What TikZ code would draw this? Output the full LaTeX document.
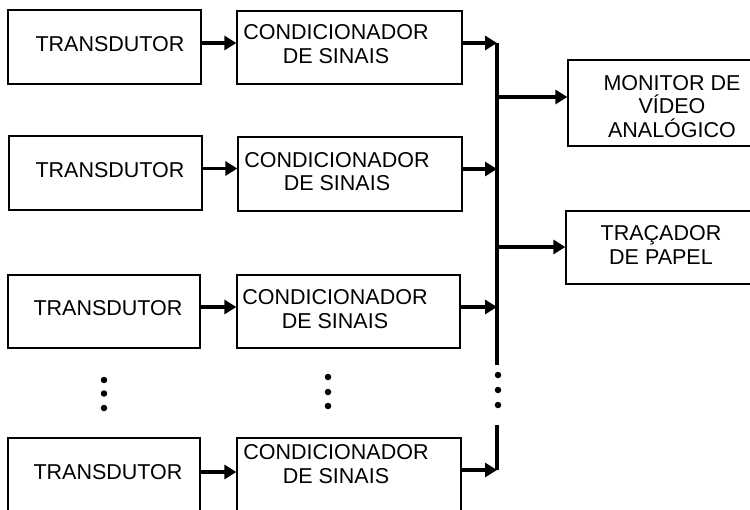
\documentclass[tikz,border=0pt]{standalone}
\usepackage{fontspec}
\setmainfont{Liberation Sans}
\usetikzlibrary{arrows.meta}
\tikzset{
  box/.style={draw, line width=1.3pt, inner sep=0pt},
  lbl/.style={font=\fontsize{21.5}{23.5}\selectfont, align=center, inner sep=0pt},
  arr/.style={line width=3.6pt, -{Triangle[length=12pt,width=14pt]}},
  bus/.style={line width=3.4pt},
  dot/.style={fill=black, draw=none, circle, minimum size=6.5pt, inner sep=0pt},
}
\begin{document}
\begin{tikzpicture}[x=1pt,y=-1pt]
\useasboundingbox (0,0) rectangle (750,509);
\clip (0,0) rectangle (750,509);
% row 1
\node[box, minimum width=193pt, minimum height=74pt] (t1) at (104.5,47) {};
\node[lbl] (t1x) at (110,44) {TRANSDUTOR};
\node[box, minimum width=225pt, minimum height=73pt] (c1) at (349.5,47.5) {};
\node[lbl] (c1x) at (336,44) {CONDICIONADOR\\DE SINAIS};
% row 2
\node[box, minimum width=193pt, minimum height=74pt] (t2) at (105.5,173) {};
\node[lbl] (t2x) at (110,170) {TRANSDUTOR};
\node[box, minimum width=224pt, minimum height=74pt] (c2) at (350,174) {};
\node[lbl] (c2x) at (337,171.5) {CONDICIONADOR\\DE SINAIS};
% row 3
\node[box, minimum width=192pt, minimum height=73pt] (t3) at (104,311.5) {};
\node[lbl] (t3x) at (108,308) {TRANSDUTOR};
\node[box, minimum width=223pt, minimum height=73pt] (c3) at (348.5,311.5) {};
\node[lbl] (c3x) at (335,309) {CONDICIONADOR\\DE SINAIS};
% row 5
\node[box, minimum width=192pt, minimum height=74pt] (t5) at (104,475) {};
\node[lbl] (t5x) at (108,472) {TRANSDUTOR};
\node[box, minimum width=224pt, minimum height=74pt] (c5) at (349,475) {};
\node[lbl] (c5x) at (336,464) {CONDICIONADOR\\DE SINAIS};
% outputs
\node[box, minimum width=208pt, minimum height=86pt] (mon) at (672,103) {};
\node[lbl] (monx) at (672,106.5) {MONITOR DE\\VÍDEO\\ANALÓGICO};
\node[box, minimum width=190pt, minimum height=73pt] (tra) at (661,247.5) {};
\node[lbl] (trax) at (661,245) {TRAÇADOR\\DE PAPEL};
% T -> C arrows
\draw[arr] ([yshift=4pt]t1.east) -- ([yshift=4pt]t1.east -| c1.west);
\coordinate (a2) at ([yshift=4.5pt]t2.east);
\draw[arr] (a2) -- (a2 -| c2.west);
\coordinate (a3) at ([yshift=4.5pt]t3.east);
\draw[arr] (a3) -- (a3 -| c3.west);
\coordinate (a5) at ([yshift=3pt]t5.east);
\draw[arr] (a5) -- (a5 -| c5.west);
% bus
\coordinate (bustop) at (497,43);
\coordinate (busmid) at (497,365);
\coordinate (busbot) at (497,425);
\coordinate (busend) at (497,470);
\draw[bus] (bustop) -- (busmid);
\draw[bus] (busbot) -- (busend);
% C -> bus arrows
\coordinate (o1) at (c1.east |- bustop);
\draw[arr] (o1) -- (bustop);
\coordinate (o2) at ([yshift=5pt]c2.east);
\draw[arr] (o2) -- (o2 -| bustop);
\coordinate (o3) at ([yshift=4.5pt]c3.east);
\draw[arr] (o3) -- (o3 -| bustop);
\coordinate (o5) at (c5.east |- busend);
\draw[arr] (o5) -- (busend);
% bus -> outputs
\coordinate (b1) at (497,97);
\draw[arr] (b1) -- (b1 -| mon.west);
\coordinate (b2) at (497,247);
\draw[arr] (b2) -- (b2 -| tra.west);
% dots
\node[dot] (d1) at (104,380) {};
\node[dot] (d2) at (104,393.5) {};
\node[dot] (d3) at (104,408) {};
\node[dot] (d4) at (328,377) {};
\node[dot] (d5) at (328,392) {};
\node[dot] (d6) at (328,406) {};
\node[dot] (d7) at (498,375) {};
\node[dot] (d8) at (498,390) {};
\node[dot] (d9) at (498,405) {};
\end{tikzpicture}
\end{document}
